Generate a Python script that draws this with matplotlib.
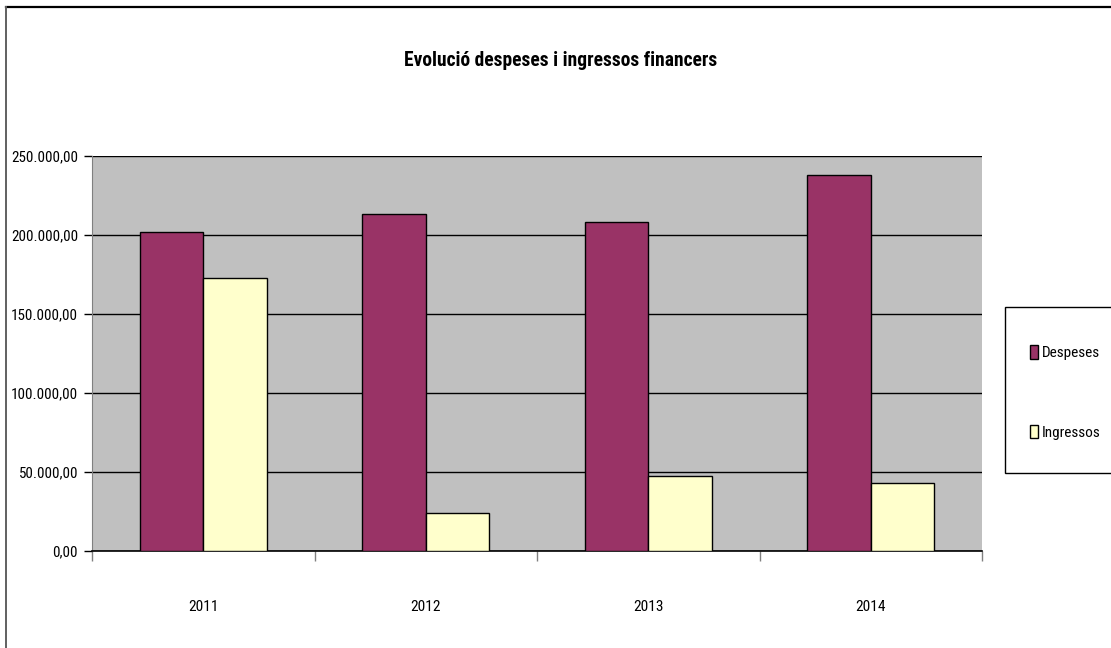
import matplotlib
matplotlib.use("Agg")
import matplotlib.pyplot as plt
from matplotlib.patches import Patch, Rectangle
from matplotlib.lines import Line2D
from matplotlib.ticker import FuncFormatter, FixedLocator
from matplotlib import font_manager as fm
from matplotlib.textpath import TextPath
import numpy as np

years = ["2011", "2012", "2013", "2014"]
despeses = [201900, 213300, 208200, 238000]
ingressos = [172800, 24000, 47500, 43000]
series_names = ["Despeses", "Ingressos"]
title = "Evolució despeses i ingressos financers"

# pick the narrowest regular sans font among common families
allowed = {"DejaVu Sans", "Liberation Sans", "Liberation Sans Narrow", "Arial Narrow",
           "Noto Sans", "Roboto", "Roboto Condensed", "Open Sans", "Open Sans Condensed",
           "Lato", "Inter", "Noto Sans Condensed", "DejaVu Sans Condensed"}
best = None
for f in fm.fontManager.ttflist:
    if f.name not in allowed:
        continue
    if f.style != "normal" or f.weight not in (400, "normal", "regular"):
        continue
    try:
        prop = fm.FontProperties(fname=f.fname)
        w = TextPath((0, 0), "250.000,00", size=10, prop=prop).get_extents().width
        h = TextPath((0, 0), "2", size=10, prop=prop).get_extents().height
        r = w / h
    except Exception:
        continue
    if best is None or r < best[0]:
        best = (r, f.name, f.stretch)

fam = best[1] if best else "DejaVu Sans"
stretch = best[2] if best else "normal"
plt.rcParams["font.family"] = [fam, "DejaVu Sans"]
plt.rcParams["font.stretch"] = stretch

W, H = 1111, 648
fig = plt.figure(figsize=(W / 100, H / 100), dpi=100)
fig.patch.set_facecolor("white")

def fx(px):
    return px / W
def fy(py):
    return 1 - py / H

ax = fig.add_axes([fx(92), fy(551), fx(982) - fx(92), fy(156) - fy(551)])
ax.set_facecolor("#C0C0C0")

x = np.arange(len(years))
bw = 1 / 3.5
ax.bar(x - bw / 2, despeses, width=bw, color="#993366", edgecolor="black", linewidth=1.0, zorder=3)
ax.bar(x + bw / 2, ingressos, width=bw, color="#FFFFCC", edgecolor="black", linewidth=1.0, zorder=3)

ax.set_xlim(-0.5, len(years) - 0.5)
ax.set_ylim(0, 250000)
ax.yaxis.set_major_locator(FixedLocator(np.arange(0, 250001, 50000)))

def fmt(v, pos):
    s = f"{v:,.2f}"
    return s.replace(",", "X").replace(".", ",").replace("X", ".")
ax.yaxis.set_major_formatter(FuncFormatter(fmt))
ax.grid(axis="y", color="black", linewidth=1.0, zorder=1)

def width_px(s, weight="normal"):
    tp = TextPath((0, 0), s, size=10,
                  prop=fm.FontProperties(family=fam, stretch=stretch, weight=weight))
    return tp.get_extents().width * 100 / 72

ytick_fs = max(10.5, min(14.0, 10 * 65 / width_px("250.000,00")))
xtick_fs = max(11.0, min(14.0, 10 * 27 / width_px("2011")))
title_fs = max(12.5, min(18.0, 10 * 312 / width_px(title, "bold")))
leg_fs = max(11.0, min(14.0, 10 * 48 / width_px("Despeses")))

ax.set_xticks(np.arange(-0.5, len(years) + 0.5, 1.0))
ax.set_xticklabels([])
ax.set_xticks(x, minor=True)
ax.set_xticklabels(years, minor=True)
ax.tick_params(axis="x", which="major", direction="out", length=7, color="#808080", width=1)
ax.tick_params(axis="x", which="minor", length=0, pad=35, labelsize=xtick_fs)
ax.tick_params(axis="y", direction="out", length=6, color="black", width=1, labelsize=ytick_fs, pad=4)

for s in ["top", "right"]:
    ax.spines[s].set_visible(False)
ax.spines["left"].set_color("#808080")
ax.spines["bottom"].set_color("black")
ax.spines["bottom"].set_linewidth(1.2)

fig.text(fx(561), fy(60), title, ha="center", va="center", fontsize=title_fs, fontweight="bold")

# legend box
fig.add_artist(Rectangle((fx(1005), fy(473)), fx(1115) - fx(1005), fy(307) - fy(473),
                         transform=fig.transFigure, fill=True, facecolor="white",
                         edgecolor="black", linewidth=1.0, clip_on=False))
handles = [Patch(facecolor="#993366", edgecolor="black", linewidth=1.0),
           Patch(facecolor="#FFFFCC", edgecolor="black", linewidth=1.0)]
leg = fig.legend(handles, series_names, loc="center left",
                 bbox_to_anchor=(fx(1030), fy(392.5)), frameon=False,
                 fontsize=leg_fs, handlelength=0.5, handleheight=1.0,
                 handletextpad=0.25, labelspacing=4.2, borderpad=0, borderaxespad=0)

# outer chart border (top and left visible)
fig.add_artist(Line2D([fx(6), fx(1111)], [fy(6.5), fy(6.5)], transform=fig.transFigure,
                      color="black", linewidth=1.6))
fig.add_artist(Line2D([fx(6), fx(6)], [fy(6.5), fy(648)], transform=fig.transFigure,
                      color="#606060", linewidth=1.4))

fig.savefig("out.png", dpi=100)
